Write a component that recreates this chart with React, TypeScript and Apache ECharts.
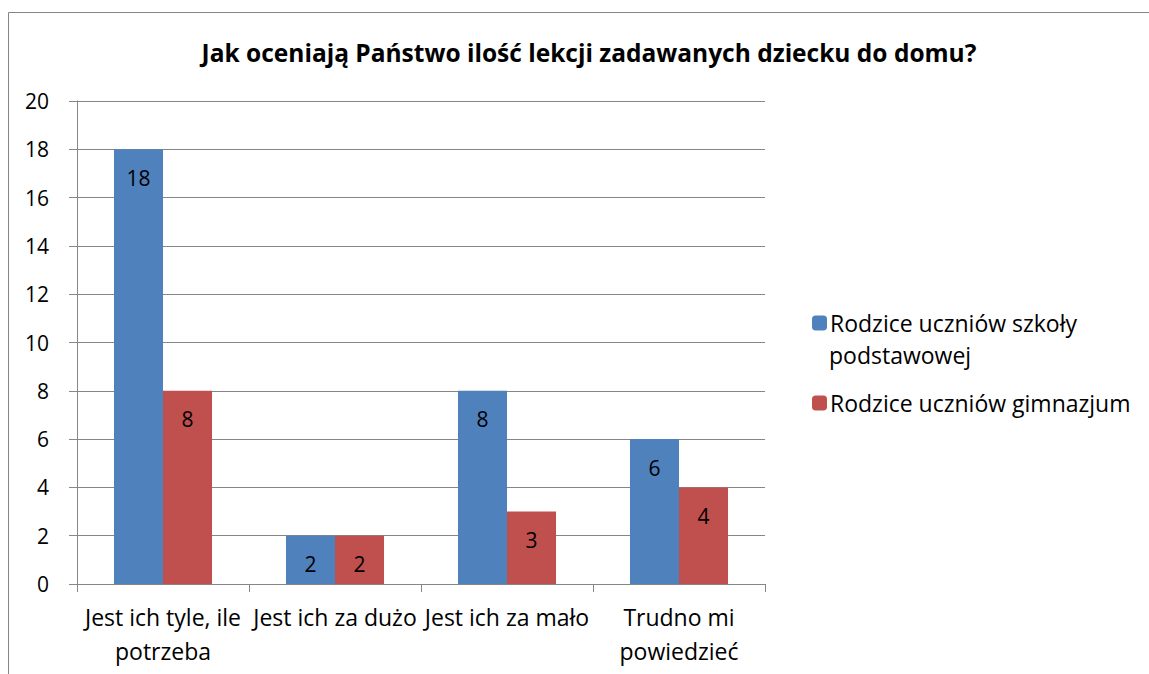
import React, { useEffect, useRef } from "react";
import * as echarts from "echarts";

const title = "Jak oceniają Państwo ilość lekcji zadawanych dziecku do domu?";
const categories = ["Jest ich tyle, ile\npotrzeba", "Jest ich za dużo", "Jest ich za mało", "Trudno mi\npowiedzieć"];
const seriesNames = ["Rodzice uczniów szkoły podstawowej", "Rodzice uczniów gimnazjum"];
const primaryValues = [18, 2, 8, 6];
const gymnasiumValues = [8, 2, 3, 4];
const colors = ["#4F81BD", "#C0504D"];

const FONT = "'Open Sans', 'Noto Sans', sans-serif";

export default function App() {
  const ref = useRef<HTMLDivElement>(null);
  useEffect(() => {
    if (!ref.current) return;
    const chart = echarts.init(ref.current, null, { renderer: "svg" });
    const label = {
      show: true,
      position: "insideTop",
      distance: 18,
      color: "#000",
      fontSize: 21,
      fontFamily: FONT,
    };
    const legendText = { fontFamily: FONT, fontSize: 23, lineHeight: 24, color: "#000", padding: [0, 0, 0, -2] };
    chart.setOption({
      animation: false,
      backgroundColor: "#fff",
      title: {
        text: title,
        left: 584,
        top: 35,
        textAlign: "center",
        textStyle: { fontFamily: FONT, fontSize: 24.5, fontWeight: "bold", color: "#000" },
      },
      legend: [
        {
          orient: "vertical",
          left: 807,
          top: 306,
          itemWidth: 15,
          itemHeight: 15,
          data: [seriesNames[0]],
          formatter: () => "Rodzice uczniów szkoły",
          textStyle: legendText,
        },
        {
          orient: "vertical",
          left: 807,
          top: 386,
          itemWidth: 15,
          itemHeight: 15,
          data: [seriesNames[1]],
          textStyle: legendText,
        },
      ],
      graphic: [
        {
          type: "rect",
          shape: { x: 8.5, y: 12.5, width: 1300, height: 800 },
          style: { fill: "none", stroke: "#868686", lineWidth: 1 },
          silent: true,
        },
        {
          type: "text",
          left: 829,
          top: 343,
          style: { text: "podstawowej", fontFamily: FONT, fontSize: 23, lineHeight: 24, fill: "#000" },
        },
      ],
      grid: { left: 77, right: 384, top: 101, bottom: 90, containLabel: false },
      xAxis: {
        type: "category",
        data: categories,
        axisLine: { lineStyle: { color: "#868686" } },
        axisTick: { show: true, length: 8, lineStyle: { color: "#868686" } },
        axisLabel: {
          interval: 0,
          color: "#000",
          fontFamily: FONT,
          fontSize: 23,
          lineHeight: 34,
          margin: 16,
        },
      },
      yAxis: {
        type: "value",
        min: 0,
        max: 20,
        interval: 2,
        axisLine: { show: true, lineStyle: { color: "#868686" } },
        axisTick: { show: true, length: 8, lineStyle: { color: "#868686" } },
        splitLine: { lineStyle: { color: "#868686" } },
        axisLabel: { color: "#000", fontFamily: FONT, fontSize: 21, margin: 28 },
      },
      series: [
        {
          name: seriesNames[0],
          type: "bar",
          data: primaryValues,
          itemStyle: { color: colors[0] },
          barGap: "0%",
          barCategoryGap: "43%",
          label,
        },
        {
          name: seriesNames[1],
          type: "bar",
          data: gymnasiumValues,
          itemStyle: { color: colors[1] },
          barGap: "0%",
          barCategoryGap: "43%",
          label,
        },
      ],
    });
    return () => chart.dispose();
  }, []);
  return (
    <div
      ref={ref}
      style={{ position: "fixed", left: 0, top: 0, width: 1149, height: 674 }}
    />
  );
}
